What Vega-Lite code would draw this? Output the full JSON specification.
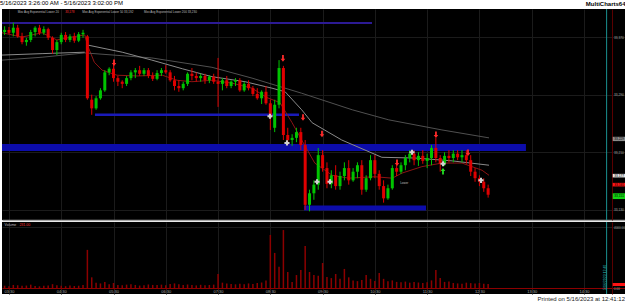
{
  "$schema": "https://vega.github.io/schema/vega-lite/v6.json",
  "background": "white",
  "padding": 0,
  "spacing": 0,
  "config": {
    "view": {"stroke": null, "fill": "black"},
    "font": "Liberation Sans",
    "scale": {"continuousPadding": 0},
    "axis": {"gridColor": "#1b1b1b", "gridWidth": 1, "labelFont": "Liberation Sans", "labelColor": "#a8a8a8", "tickColor": "#6a0000", "domainColor": "#5a0000", "labelOverlap": false},
    "title": {"font": "Liberation Sans", "color": "#000000", "fontWeight": "normal"}
  },
  "datasets": {
    "candles": [
      {"t":205,"o":33377,"h":33385,"l":33373,"c":33380,"v":150},
      {"t":210,"o":33380,"h":33384,"l":33374,"c":33376,"v":120},
      {"t":215,"o":33376,"h":33390,"l":33371,"c":33383,"v":200},
      {"t":220,"o":33383,"h":33387,"l":33369,"c":33371,"v":180},
      {"t":225,"o":33371,"h":33376,"l":33360,"c":33363,"v":140},
      {"t":230,"o":33363,"h":33369,"l":33358,"c":33366,"v":160},
      {"t":235,"o":33366,"h":33380,"l":33363,"c":33377,"v":220},
      {"t":240,"o":33377,"h":33385,"l":33371,"c":33383,"v":130},
      {"t":245,"o":33383,"h":33387,"l":33373,"c":33376,"v":110},
      {"t":250,"o":33376,"h":33385,"l":33373,"c":33381,"v":150},
      {"t":255,"o":33381,"h":33383,"l":33366,"c":33369,"v":170},
      {"t":260,"o":33369,"h":33371,"l":33347,"c":33352,"v":250},
      {"t":265,"o":33352,"h":33366,"l":33345,"c":33363,"v":180},
      {"t":270,"o":33363,"h":33376,"l":33360,"c":33373,"v":140},
      {"t":275,"o":33373,"h":33377,"l":33363,"c":33366,"v":120},
      {"t":280,"o":33366,"h":33374,"l":33363,"c":33371,"v":160},
      {"t":285,"o":33371,"h":33376,"l":33362,"c":33365,"v":130},
      {"t":290,"o":33365,"h":33377,"l":33363,"c":33374,"v":150},
      {"t":295,"o":33374,"h":33380,"l":33369,"c":33376,"v":200},
      {"t":300,"o":33371,"h":33373,"l":33283,"c":33285,"v":2500},
      {"t":305,"o":33283,"h":33290,"l":33262,"c":33271,"v":700},
      {"t":310,"o":33271,"h":33288,"l":33269,"c":33285,"v":350},
      {"t":315,"o":33285,"h":33299,"l":33283,"c":33296,"v":300},
      {"t":320,"o":33296,"h":33324,"l":33294,"c":33321,"v":400},
      {"t":325,"o":33321,"h":33328,"l":33317,"c":33326,"v":250},
      {"t":330,"o":33326,"h":33335,"l":33308,"c":33313,"v":330},
      {"t":335,"o":33313,"h":33316,"l":33302,"c":33308,"v":200},
      {"t":340,"o":33308,"h":33310,"l":33299,"c":33305,"v":180},
      {"t":345,"o":33305,"h":33316,"l":33302,"c":33313,"v":220},
      {"t":350,"o":33313,"h":33324,"l":33310,"c":33321,"v":250},
      {"t":355,"o":33321,"h":33327,"l":33313,"c":33324,"v":200},
      {"t":360,"o":33324,"h":33330,"l":33316,"c":33319,"v":160},
      {"t":365,"o":33319,"h":33327,"l":33316,"c":33324,"v":180},
      {"t":370,"o":33324,"h":33327,"l":33313,"c":33316,"v":230},
      {"t":375,"o":33316,"h":33321,"l":33309,"c":33312,"v":200},
      {"t":380,"o":33312,"h":33324,"l":33310,"c":33320,"v":190},
      {"t":385,"o":33320,"h":33327,"l":33316,"c":33324,"v":220},
      {"t":390,"o":33324,"h":33331,"l":33319,"c":33321,"v":180},
      {"t":395,"o":33321,"h":33324,"l":33308,"c":33310,"v":260},
      {"t":400,"o":33310,"h":33316,"l":33296,"c":33302,"v":300},
      {"t":405,"o":33302,"h":33310,"l":33294,"c":33299,"v":240},
      {"t":410,"o":33299,"h":33308,"l":33296,"c":33305,"v":200},
      {"t":415,"o":33305,"h":33321,"l":33302,"c":33319,"v":230},
      {"t":420,"o":33319,"h":33327,"l":33310,"c":33316,"v":190},
      {"t":425,"o":33316,"h":33321,"l":33308,"c":33313,"v":170},
      {"t":430,"o":33313,"h":33319,"l":33308,"c":33316,"v":210},
      {"t":435,"o":33316,"h":33319,"l":33305,"c":33310,"v":180},
      {"t":440,"o":33310,"h":33317,"l":33306,"c":33315,"v":200},
      {"t":445,"o":33315,"h":33319,"l":33305,"c":33308,"v":220},
      {"t":450,"o":33308,"h":33341,"l":33273,"c":33305,"v":920},
      {"t":455,"o":33305,"h":33313,"l":33296,"c":33310,"v":350},
      {"t":460,"o":33310,"h":33316,"l":33299,"c":33302,"v":300},
      {"t":465,"o":33302,"h":33310,"l":33299,"c":33308,"v":260},
      {"t":470,"o":33308,"h":33313,"l":33302,"c":33310,"v":240},
      {"t":475,"o":33310,"h":33313,"l":33294,"c":33296,"v":280},
      {"t":480,"o":33296,"h":33308,"l":33294,"c":33305,"v":250},
      {"t":485,"o":33305,"h":33310,"l":33296,"c":33299,"v":300},
      {"t":490,"o":33299,"h":33302,"l":33288,"c":33291,"v":270},
      {"t":495,"o":33291,"h":33299,"l":33283,"c":33285,"v":330},
      {"t":500,"o":33285,"h":33296,"l":33277,"c":33294,"v":360},
      {"t":505,"o":33294,"h":33302,"l":33276,"c":33278,"v":500},
      {"t":510,"o":33278,"h":33283,"l":33241,"c":33258,"v":3480},
      {"t":515,"o":33244,"h":33283,"l":33238,"c":33276,"v":2300},
      {"t":520,"o":33276,"h":33338,"l":33271,"c":33327,"v":1400},
      {"t":525,"o":33327,"h":33330,"l":33227,"c":33234,"v":3800},
      {"t":530,"o":33234,"h":33244,"l":33220,"c":33227,"v":1050},
      {"t":535,"o":33227,"h":33235,"l":33219,"c":33230,"v":390},
      {"t":540,"o":33230,"h":33244,"l":33224,"c":33238,"v":850},
      {"t":545,"o":33238,"h":33244,"l":33213,"c":33220,"v":1180},
      {"t":550,"o":33220,"h":33227,"l":33130,"c":33137,"v":2750},
      {"t":555,"o":33137,"h":33158,"l":33128,"c":33153,"v":1050},
      {"t":560,"o":33153,"h":33171,"l":33144,"c":33165,"v":850},
      {"t":565,"o":33165,"h":33216,"l":33158,"c":33206,"v":800},
      {"t":570,"o":33206,"h":33213,"l":33183,"c":33188,"v":1640},
      {"t":575,"o":33188,"h":33196,"l":33160,"c":33166,"v":720},
      {"t":580,"o":33166,"h":33185,"l":33160,"c":33178,"v":650},
      {"t":585,"o":33178,"h":33192,"l":33158,"c":33163,"v":920},
      {"t":590,"o":33163,"h":33183,"l":33158,"c":33177,"v":600},
      {"t":595,"o":33177,"h":33196,"l":33171,"c":33188,"v":1250},
      {"t":600,"o":33188,"h":33199,"l":33165,"c":33171,"v":700},
      {"t":605,"o":33171,"h":33188,"l":33169,"c":33183,"v":500},
      {"t":610,"o":33183,"h":33196,"l":33174,"c":33192,"v":450},
      {"t":615,"o":33192,"h":33199,"l":33151,"c":33158,"v":520},
      {"t":620,"o":33158,"h":33178,"l":33155,"c":33174,"v":850},
      {"t":625,"o":33174,"h":33206,"l":33171,"c":33199,"v":600},
      {"t":630,"o":33199,"h":33206,"l":33174,"c":33180,"v":460},
      {"t":635,"o":33180,"h":33185,"l":33158,"c":33163,"v":980},
      {"t":640,"o":33163,"h":33171,"l":33140,"c":33146,"v":600},
      {"t":645,"o":33146,"h":33165,"l":33144,"c":33160,"v":450},
      {"t":650,"o":33160,"h":33192,"l":33158,"c":33188,"v":500},
      {"t":655,"o":33188,"h":33199,"l":33177,"c":33183,"v":400},
      {"t":660,"o":33183,"h":33196,"l":33180,"c":33192,"v":380},
      {"t":665,"o":33192,"h":33206,"l":33185,"c":33202,"v":420},
      {"t":670,"o":33202,"h":33213,"l":33196,"c":33208,"v":350},
      {"t":675,"o":33208,"h":33213,"l":33192,"c":33199,"v":400},
      {"t":680,"o":33199,"h":33210,"l":33191,"c":33205,"v":360},
      {"t":685,"o":33205,"h":33213,"l":33194,"c":33198,"v":330},
      {"t":690,"o":33198,"h":33208,"l":33188,"c":33202,"v":380},
      {"t":695,"o":33202,"h":33220,"l":33192,"c":33216,"v":500},
      {"t":700,"o":33216,"h":33230,"l":33196,"c":33202,"v":1180},
      {"t":705,"o":33202,"h":33206,"l":33183,"c":33194,"v":650},
      {"t":710,"o":33194,"h":33210,"l":33191,"c":33205,"v":400},
      {"t":715,"o":33205,"h":33213,"l":33196,"c":33202,"v":420},
      {"t":720,"o":33202,"h":33213,"l":33196,"c":33208,"v":330},
      {"t":725,"o":33208,"h":33213,"l":33199,"c":33203,"v":300},
      {"t":730,"o":33203,"h":33213,"l":33196,"c":33206,"v":280},
      {"t":735,"o":33206,"h":33213,"l":33194,"c":33199,"v":350},
      {"t":740,"o":33199,"h":33206,"l":33177,"c":33183,"v":320},
      {"t":745,"o":33183,"h":33188,"l":33169,"c":33174,"v":300},
      {"t":750,"o":33174,"h":33178,"l":33163,"c":33169,"v":330},
      {"t":755,"o":33169,"h":33174,"l":33155,"c":33160,"v":280},
      {"t":760,"o":33160,"h":33165,"l":33147,"c":33151,"v":260}
    ],
    "ema": [
      {"s":"EMA 20","g":1,"t":202,"p":33376},{"s":"EMA 20","g":1,"t":225,"p":33370},{"s":"EMA 20","g":1,"t":248,"p":33376},
      {"s":"EMA 20","g":1,"t":265,"p":33366},{"s":"EMA 20","g":1,"t":282,"p":33370},{"s":"EMA 20","g":1,"t":297,"p":33373},
      {"s":"EMA 20","g":1,"t":300,"p":33359},{"s":"EMA 20","g":1,"t":308,"p":33335},{"s":"EMA 20","g":1,"t":317,"p":33324},
      {"s":"EMA 20","g":1,"t":334,"p":33317},{"s":"EMA 20","g":1,"t":357,"p":33316},{"s":"EMA 20","g":1,"t":386,"p":33317},
      {"s":"EMA 20","g":1,"t":403,"p":33310},{"s":"EMA 20","g":1,"t":420,"p":33308},{"s":"EMA 20","g":1,"t":443,"p":33310},
      {"s":"EMA 20","g":1,"t":466,"p":33306},{"s":"EMA 20","g":1,"t":489,"p":33299},{"s":"EMA 20","g":1,"t":506,"p":33286},
      {"s":"EMA 20","g":1,"t":521,"p":33279},{"s":"EMA 20","g":1,"t":535,"p":33251},{"s":"EMA 20","g":1,"t":546,"p":33227},
      {"s":"EMA 20","g":1,"t":561,"p":33195},{"s":"EMA 20","g":1,"t":581,"p":33178},{"s":"EMA 20","g":1,"t":600,"p":33174},
      {"s":"EMA 20","g":1,"t":630,"p":33176},{"s":"EMA 20","g":1,"t":650,"p":33174},{"s":"EMA 20","g":1,"t":661,"p":33181},
      {"s":"EMA 20","g":1,"t":684,"p":33190},{"s":"EMA 20","g":1,"t":707,"p":33195},{"s":"EMA 20","g":1,"t":730,"p":33195},
      {"s":"EMA 20","g":1,"t":753,"p":33185},{"s":"EMA 20","g":1,"t":761,"p":33178},
      {"s":"EMA 200","g":2,"t":202,"p":33338},{"s":"EMA 200","g":2,"t":248,"p":33342},{"s":"EMA 200","g":2,"t":297,"p":33348},
      {"s":"EMA 200","g":2,"t":374,"p":33341},{"s":"EMA 200","g":2,"t":443,"p":33328},{"s":"EMA 200","g":2,"t":489,"p":33313},
      {"s":"EMA 200","g":2,"t":546,"p":33292},{"s":"EMA 200","g":2,"t":604,"p":33269},{"s":"EMA 200","g":2,"t":646,"p":33255},
      {"s":"EMA 200","g":2,"t":707,"p":33241},{"s":"EMA 200","g":2,"t":761,"p":33230},
      {"s":"EMA 50","g":3,"t":202,"p":33345},{"s":"EMA 50","g":3,"t":248,"p":33347},{"s":"EMA 50","g":3,"t":297,"p":33349},
      {"s":"EMA 50","g":4,"t":300,"p":33359},{"s":"EMA 50","g":4,"t":340,"p":33349},{"s":"EMA 50","g":4,"t":374,"p":33338},
      {"s":"EMA 50","g":4,"t":409,"p":33326},{"s":"EMA 50","g":4,"t":443,"p":33315},{"s":"EMA 50","g":4,"t":481,"p":33308},
      {"s":"EMA 50","g":4,"t":512,"p":33299},{"s":"EMA 50","g":4,"t":527,"p":33294},{"s":"EMA 50","g":4,"t":546,"p":33269},
      {"s":"EMA 50","g":4,"t":558,"p":33251},{"s":"EMA 50","g":4,"t":592,"p":33227},{"s":"EMA 50","g":4,"t":638,"p":33203},
      {"s":"EMA 50","g":4,"t":676,"p":33202},{"s":"EMA 50","g":4,"t":719,"p":33198},{"s":"EMA 50","g":4,"t":761,"p":33192}
    ],
    "zones": [
      {"k":"top","t1":202,"t2":626.7,"p1":33388,"p2":33391},
      {"k":"mid","t1":308.7,"t2":542.9,"p1":33260.4,"p2":33264},
      {"k":"zone","t1":202,"t2":803.4,"p1":33211.8,"p2":33221.5},
      {"k":"zone","t1":548.6,"t2":688.7,"p1":33129,"p2":33136}
    ],
    "signals": [
      {"k":"sell","t":330.6,"p":33334},
      {"k":"sell","t":524.5,"p":33340},
      {"k":"sell","t":547.5,"p":33258},
      {"k":"sell","t":569.3,"p":33235},
      {"k":"sell","t":655.4,"p":33195},
      {"k":"sell","t":700.1,"p":33234},
      {"k":"sell","t":736.9,"p":33209},
      {"k":"buy","t":708.2,"p":33184},
      {"k":"dot","t":509.6,"p":33260},
      {"k":"dot","t":529.1,"p":33223},
      {"k":"dot","t":563.6,"p":33169},
      {"k":"dot","t":578.5,"p":33169},
      {"k":"dot","t":672.6,"p":33210},
      {"k":"dot","t":708.2,"p":33194},
      {"k":"dot","t":751.8,"p":33171}
    ],
    "boxes": [
      {"k":"gray","t1":903,"t2":919.4,"p1":33225.5,"p2":33231.5,"p":33228.5,"lab":"33,229"},
      {"k":"white","t1":903,"t2":919.4,"p1":33175,"p2":33180,"p":33177.5,"lab":"33,177"},
      {"k":"red","t1":903,"t2":919.4,"p1":33162.5,"p2":33167.5,"p":33165,"lab":"33,165"},
      {"k":"green","t1":903,"t2":919.4,"p1":33145,"p2":33153,"p":33149,"lab":"33,151"}
    ],
    "notes": [
      {"k":"legend","t":220,"p":33405,"txt":"Mov Avg Exponential   Lower  20"},
      {"k":"value","t":274.5,"p":33405,"txt":"33,178"},
      {"k":"legend","t":294,"p":33405,"txt":"Mov Avg Exponential   Lower  50   33,192"},
      {"k":"legend","t":365,"p":33405,"txt":"Mov Avg Exponential   Lower  200   33,230"},
      {"k":"legend","t":659,"p":33167,"txt":"Lower"}
    ],
    "volnotes": [
      {"k":"legend","t":205,"v":4150,"txt":"Volume"},
      {"k":"value","t":222,"v":4150,"txt":"231.00"}
    ]
  },
  "vconcat": [
    {
      "width": 625,
      "height": 211,
      "title": {"text": "5/16/2023 3:26:00 AM - 5/16/2023 3:02:00 PM", "anchor": "start", "fontSize": 6, "offset": -6},
      "resolve": {"scale": {"color": "independent", "shape": "independent", "size": "independent"}},
      "layer": [
        {
          "data": {"name": "zones"},
          "mark": {"type": "rect"},
          "encoding": {
            "x": {"field": "t1", "type": "quantitative", "scale": {"domain": [202, 919.4], "nice": false, "zero": false, "padding": 0},
                  "axis": {"orient": "bottom", "title": null, "labels": false, "ticks": false, "domainColor": "#a6a6a6", "domainWidth": 1.5, "grid": true,
                           "values": [210,240,270,300,330,360,390,420,450,480,510,540,570,600,630,660,690,720,750,780,810,840,870]}},
            "x2": {"field": "t2"},
            "y": {"field": "p1", "type": "quantitative", "scale": {"domain": [33115.9, 33409], "nice": false, "zero": false, "padding": 0},
                  "axis": {"orient": "right", "offset": -15, "ticks": false, "grid": true, "format": ",d", "labelFontSize": 3.2, "labelPadding": 1.5, "labelOverlap": false,
                           "values": [33130,33140,33150,33160,33170,33180,33190,33200,33210,33220,33230,33240,33250,33260,33270,33280,33290,33300,33310,33320,33330,33340,33350,33360,33370,33380,33390,33400],
                           "title": "MultiCharts64", "titleAngle": 0, "titleX": 13, "titleY": -3, "titleAlign": "right", "titleBaseline": "bottom",
                           "titleFontSize": 6, "titleFontWeight": "bold", "titleColor": "#000000", "titleFont": "Liberation Sans"}},
            "y2": {"field": "p2"},
            "color": {"field": "k", "type": "nominal", "scale": {"domain": ["top", "mid", "zone"], "range": ["#2c1a94", "#1a1ab8", "#0c0caa"]}, "legend": null}
          }
        },
        {
          "data": {"name": "ema"},
          "mark": {"type": "line", "strokeWidth": 1},
          "encoding": {
            "x": {"field": "t", "type": "quantitative"},
            "y": {"field": "p", "type": "quantitative"},
            "detail": {"field": "g"},
            "color": {"field": "s", "type": "nominal", "scale": {"domain": ["EMA 20", "EMA 50", "EMA 200"], "range": ["#8e1414", "#8a8a8a", "#505050"]}, "legend": null}
          }
        },
        {
          "data": {"name": "candles"},
          "mark": {"type": "rule", "strokeWidth": 1},
          "encoding": {
            "x": {"field": "t", "type": "quantitative"},
            "y": {"field": "l", "type": "quantitative"},
            "y2": {"field": "h"},
            "color": {"condition": {"test": "datum.c >= datum.o", "value": "#00c400"}, "value": "#e00000"}
          }
        },
        {
          "data": {"name": "candles"},
          "mark": {"type": "bar", "size": 3},
          "encoding": {
            "x": {"field": "t", "type": "quantitative"},
            "y": {"field": "o", "type": "quantitative"},
            "y2": {"field": "c"},
            "color": {"condition": {"test": "datum.c >= datum.o", "value": "#00c400"}, "value": "#e00000"}
          }
        },
        {
          "data": {"name": "signals"},
          "mark": {"type": "point", "filled": true, "opacity": 1},
          "encoding": {
            "x": {"field": "t", "type": "quantitative"},
            "y": {"field": "p", "type": "quantitative"},
            "shape": {"field": "k", "type": "nominal", "scale": {"domain": ["sell", "buy", "dot"], "range": ["M-0.35,-1.4L0.35,-1.4L0.35,0L0.9,0L0,1.2L-0.9,0L-0.35,0Z", "M-0.35,1.4L0.35,1.4L0.35,0L0.9,0L0,-1.2L-0.9,0L-0.35,0Z", "cross"]}, "legend": null},
            "color": {"field": "k", "type": "nominal", "scale": {"domain": ["sell", "buy", "dot"], "range": ["#ff2a2a", "#22e022", "#d0d0d0"]}, "legend": null},
            "size": {"field": "k", "type": "nominal", "scale": {"domain": ["sell", "buy", "dot"], "range": [26, 26, 9]}, "legend": null}
          }
        },
        {
          "data": {"name": "boxes"},
          "mark": {"type": "rect"},
          "encoding": {
            "x": {"field": "t1", "type": "quantitative"},
            "x2": {"field": "t2"},
            "y": {"field": "p1", "type": "quantitative"},
            "y2": {"field": "p2"},
            "color": {"field": "k", "type": "nominal", "scale": {"domain": ["gray", "white", "red", "green"], "range": ["#8c8c8c", "#e4e4e4", "#ff1414", "#14d414"]}, "legend": null}
          }
        },
        {
          "data": {"name": "boxes"},
          "mark": {"type": "text", "fontSize": 3.2, "align": "left", "baseline": "middle", "dx": 1.5, "color": "#000000"},
          "encoding": {
            "x": {"field": "t1", "type": "quantitative"},
            "y": {"field": "p", "type": "quantitative"},
            "text": {"field": "lab"}
          }
        },
        {
          "data": {"name": "notes"},
          "mark": {"type": "text", "fontSize": 3, "align": "left", "baseline": "middle"},
          "encoding": {
            "x": {"field": "t", "type": "quantitative"},
            "y": {"field": "p", "type": "quantitative"},
            "text": {"field": "txt"},
            "color": {"field": "k", "type": "nominal", "scale": {"domain": ["legend", "value"], "range": ["#bdbdbd", "#ff3030"]}, "legend": null}
          }
        },
        {
          "data": {"values": [{}]},
          "mark": {"type": "rule", "color": "#1a9090", "strokeWidth": 1},
          "encoding": {"x": {"datum": 896}}
        }
      ]
    },
    {
      "width": 625,
      "height": 72,
      "title": {"text": "Printed on 5/16/2023 at 12:41:12", "orient": "bottom", "anchor": "end", "fontSize": 6, "offset": 1, "dx": -2, "color": "#222222"},
      "resolve": {"scale": {"color": "independent"}},
      "layer": [
        {
          "data": {"name": "candles"},
          "mark": {"type": "bar", "size": 1.5, "color": "#8c0000"},
          "encoding": {
            "x": {"field": "t", "type": "quantitative", "scale": {"domain": [202, 919.4], "nice": false, "zero": false, "padding": 0},
                  "axis": {"orient": "bottom", "offset": -6, "title": null, "grid": true, "tickSize": 1, "labelFontSize": 4, "labelPadding": 0.5, "domainColor": "#8c0000", "labelOverlap": false,
                           "values": [210,240,270,300,330,360,390,420,450,480,510,540,570,600,630,660,690,720,750,780,810,840,870],
                           "labelExpr": "(floor(datum.value/60) < 10 ? '0' : '') + floor(datum.value/60) + ':' + (datum.value % 60 < 10 ? '0' : '') + (datum.value % 60)"}},
            "y": {"field": "v", "type": "quantitative", "scale": {"domain": [-393, 4328], "nice": false, "zero": false, "padding": 0},
                  "axis": {"orient": "right", "offset": -15, "title": null, "ticks": false, "grid": true, "format": ".2f", "labelFontSize": 3, "labelPadding": 1.5, "labelOverlap": false,
                           "values": [0, 500, 1000, 1500, 2000, 2500, 3000, 3500, 4000]}},
            "y2": {"datum": 0}
          }
        },
        {
          "data": {"name": "volnotes"},
          "mark": {"type": "text", "fontSize": 3.5, "align": "left", "baseline": "middle"},
          "encoding": {
            "x": {"field": "t", "type": "quantitative"},
            "y": {"field": "v", "type": "quantitative"},
            "text": {"field": "txt"},
            "color": {"field": "k", "type": "nominal", "scale": {"domain": ["legend", "value"], "range": ["#bdbdbd", "#ff3030"]}, "legend": null}
          }
        },
        {
          "data": {"values": [{}]},
          "mark": {"type": "rule", "color": "#1a9090", "strokeWidth": 1},
          "encoding": {"x": {"datum": 896}}
        },
        {
          "data": {"values": [{"t": 894, "v": 700, "txt": "5/16/2023 12:40"}]},
          "mark": {"type": "text", "fontSize": 3.5, "angle": 270, "align": "center", "baseline": "middle", "color": "#2ec4c4"},
          "encoding": {
            "x": {"field": "t", "type": "quantitative"},
            "y": {"field": "v", "type": "quantitative"},
            "text": {"field": "txt"}
          }
        },
        {
          "data": {"values": [{"t1": 903, "t2": 919.4, "v1": 130, "v2": 330}]},
          "mark": {"type": "rect", "color": "#ff1414"},
          "encoding": {
            "x": {"field": "t1", "type": "quantitative"},
            "x2": {"field": "t2"},
            "y": {"field": "v1", "type": "quantitative"},
            "y2": {"field": "v2"}
          }
        }
      ]
    }
  ]
}
